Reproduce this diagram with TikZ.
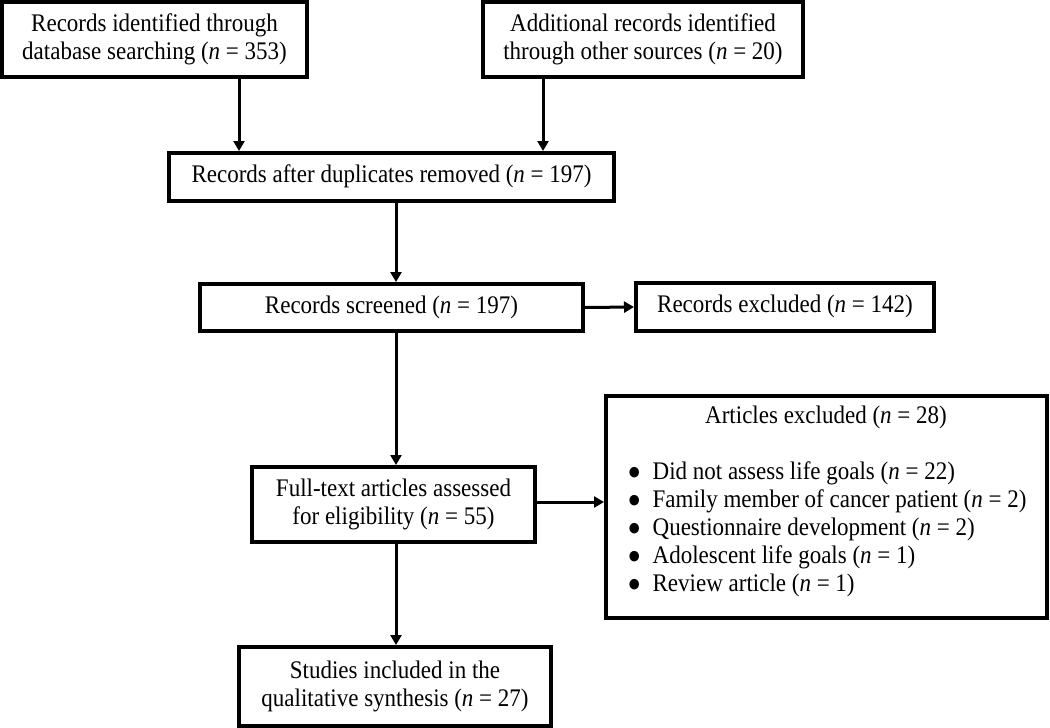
\documentclass[tikz,border=0pt]{standalone}
\usepackage{fontspec}
\usepackage{graphicx}
\setmainfont{Liberation Serif}
\usetikzlibrary{arrows.meta}
\newcommand{\nn}{\textit{n}}
\newcommand{\vs}[1]{\scalebox{1}[1.1]{\begin{tabular}{@{}c@{}}#1\end{tabular}}}
\newcommand{\bul}{$\bullet$}
\tikzset{
  box/.style={draw=black, line width=4pt, align=center, inner sep=0pt, fill=white,
    font=\fontsize{23}{25.5}\selectfont},
  txt/.style={inner sep=0pt, font=\fontsize{23}{25.5}\selectfont},
  arr/.style={line width=3pt, -{Triangle[length=10pt,width=11pt]}}
}
\begin{document}
\begin{tikzpicture}[x=1pt,y=-1pt]
\useasboundingbox (0,0) rectangle (1050,728);
\coordinate (colA) at (239,0);
\coordinate (colB) at (543,0);
\coordinate (colC) at (396,0);
\node[box, minimum width=305pt, minimum height=75pt] (a) at (154.5,39.5) {\vs{Records identified through\\database searching (\nn{} = 353)}};
\node[box, minimum width=320pt, minimum height=75pt] (b) at (643,39.5) {\vs{Additional records identified\\through other sources (\nn{} = 20)}};
\node[box, minimum width=445pt, minimum height=48pt] (c) at (391.5,177) {\vs{Records after duplicates removed (\nn{} = 197)}};
\node[box, minimum width=383pt, minimum height=47pt] (d) at (391.5,307.5) {\vs{Records screened (\nn{} = 197)}};
\node[box, minimum width=298pt, minimum height=48pt] (e) at (785,307) {\vs{Records excluded (\nn{} = 142)}};
\node[box, minimum width=283pt, minimum height=75pt] (f) at (393.5,504.5) {\vs{Full-text articles assessed\\for eligibility (\nn{} = 55)}};
\node[box, minimum width=441pt, minimum height=222pt] (g) at (826.5,507) {};
\node[txt] (gt) at (826,418) {\vs{Articles excluded (\nn{} = 28)}};
\node[txt, anchor=west] (gl) at (628,529.5) {\scalebox{1}[1.1]{%
\begin{tabular}{@{}l@{\hspace{12pt}}l@{}}
\bul & Did not assess life goals (\nn{} = 22)\\
\bul & Family member of cancer patient (\nn{} = 2)\\
\bul & Questionnaire development (\nn{} = 2)\\
\bul & Adolescent life goals (\nn{} = 1)\\
\bul & Review article (\nn{} = 1)
\end{tabular}}};
\node[box, minimum width=312pt, minimum height=79pt] (h) at (395,686.5) {\vs{Studies included in the\\qualitative synthesis (\nn{} = 27)}};
\draw[arr] (a.south -| colA) -- (c.north -| colA);
\draw[arr] (b.south -| colB) -- (c.north -| colB);
\draw[arr] (c.south -| colC) -- (d.north -| colC);
\draw[arr] (d.east) -- (e.west);
\draw[arr] (d.south -| colC) -- (f.north -| colC);
\draw[arr] ([yshift=2.5pt]f.east) -- ([yshift=2.5pt]f.east -| g.west);
\draw[arr] (f.south -| colC) -- (h.north -| colC);
\end{tikzpicture}
\end{document}
